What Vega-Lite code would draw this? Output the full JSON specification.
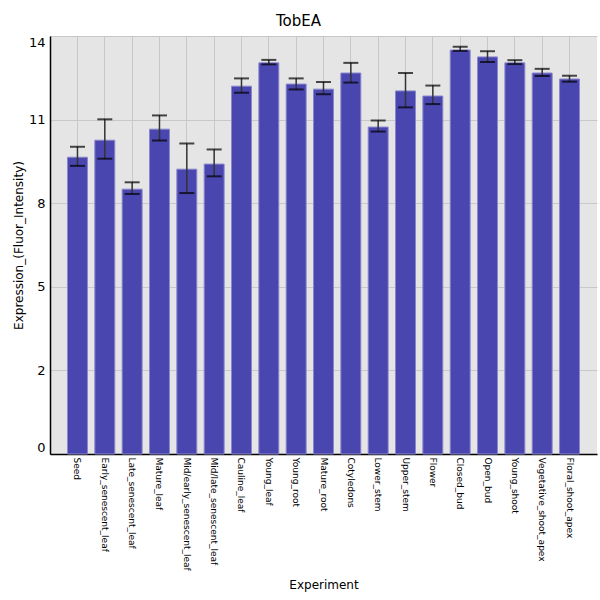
{
  "$schema": "https://vega.github.io/schema/vega-lite/v6.json",
  "width": 547,
  "height": 418,
  "autosize": {"type": "none"},
  "padding": {"left": 50, "top": 36, "right": 3, "bottom": 146},
  "background": "white",
  "title": {"text": "TobEA", "anchor": "middle", "frame": "group", "dx": -25, "offset": 7, "fontSize": 15, "fontWeight": "normal", "font": "DejaVu Sans", "color": "black"},
  "data": {"values": [
    {"Experiment": "Seed", "Value": 9.94, "Lower": 9.65, "Upper": 10.29},
    {"Experiment": "Early_senescent_leaf", "Value": 10.51, "Lower": 9.89, "Upper": 11.21},
    {"Experiment": "Late_senescent_leaf", "Value": 8.87, "Lower": 8.71, "Upper": 9.10},
    {"Experiment": "Mature_leaf", "Value": 10.88, "Lower": 10.50, "Upper": 11.34},
    {"Experiment": "Mid/early_senescent_leaf", "Value": 9.54, "Lower": 8.74, "Upper": 10.40},
    {"Experiment": "Mid/late_senescent_leaf", "Value": 9.71, "Lower": 9.30, "Upper": 10.20},
    {"Experiment": "Cauline_leaf", "Value": 12.32, "Lower": 12.10, "Upper": 12.58},
    {"Experiment": "Young_leaf", "Value": 13.10, "Lower": 13.05, "Upper": 13.20},
    {"Experiment": "Young_root", "Value": 12.39, "Lower": 12.21, "Upper": 12.58},
    {"Experiment": "Mature_root", "Value": 12.22, "Lower": 12.05, "Upper": 12.46},
    {"Experiment": "Cotyledons", "Value": 12.76, "Lower": 12.44, "Upper": 13.10},
    {"Experiment": "Lower_stem", "Value": 10.95, "Lower": 10.80, "Upper": 11.17},
    {"Experiment": "Upper_stem", "Value": 12.16, "Lower": 11.61, "Upper": 12.76},
    {"Experiment": "Flower", "Value": 11.99, "Lower": 11.72, "Upper": 12.34},
    {"Experiment": "Closed_bud", "Value": 13.53, "Lower": 13.50, "Upper": 13.64},
    {"Experiment": "Open_bud", "Value": 13.30, "Lower": 13.13, "Upper": 13.49},
    {"Experiment": "Young_shoot", "Value": 13.10, "Lower": 13.06, "Upper": 13.19},
    {"Experiment": "Vegetative_shoot_apex", "Value": 12.76, "Lower": 12.66, "Upper": 12.90},
    {"Experiment": "Floral_shoot_apex", "Value": 12.56, "Lower": 12.47, "Upper": 12.67}
  ]},
  "encoding": {
    "x": {
      "field": "Experiment", "type": "nominal", "sort": null,
      "scale": {"paddingInner": 0.27, "paddingOuter": 0.64},
      "axis": {
        "title": "Experiment", "labelAngle": 90, "labelFontSize": 9, "labelPadding": 3,
        "tickSize": 0, "domainColor": "black", "domainWidth": 1.5,
        "grid": true, "bandPosition": 0.5, "gridColor": "#c8c8c8", "gridWidth": 1,
        "titleFontSize": 12, "titleFontWeight": "normal", "titleY": 130, "titleBaseline": "middle",
        "labelColor": "black", "titleColor": "black", "labelBaseline": "middle", "labelAlign": "left"
      }
    }
  },
  "layer": [
    {
      "mark": {"type": "bar", "color": "#4a46b0", "stroke": "#8a87cc", "strokeWidth": 1},
      "encoding": {
        "y": {
          "field": "Value", "type": "quantitative",
          "scale": {"domain": [0, 14], "nice": false, "zero": true},
          "axis": {
            "title": "Expression_(Fluor_Intensity)", "values": [0, 2.8, 5.6, 8.4, 11.2, 14],
            "labelExpr": "floor(datum.value + 0.000001)", "labelFlush": true, "labelFontSize": 13,
            "tickSize": 0, "labelPadding": 5, "domainColor": "black", "domainWidth": 1.5,
            "gridColor": "#c8c8c8", "gridWidth": 1, "titleFontSize": 12, "titleFontWeight": "normal",
            "titleX": -32, "titleBaseline": "middle", "labelColor": "black", "titleColor": "black"
          }
        }
      }
    },
    {
      "mark": {"type": "rule", "color": "#333333", "strokeWidth": 1.5},
      "encoding": {"y": {"field": "Lower", "type": "quantitative"}, "y2": {"field": "Upper"}}
    },
    {
      "mark": {"type": "tick", "color": "black", "size": 15, "thickness": 2},
      "encoding": {"y": {"field": "Lower", "type": "quantitative"}}
    },
    {
      "mark": {"type": "tick", "color": "black", "size": 15, "thickness": 2},
      "encoding": {"y": {"field": "Upper", "type": "quantitative"}}
    }
  ],
  "config": {
    "font": "DejaVu Sans",
    "view": {"fill": "#e5e5e5", "stroke": null}
  }
}
